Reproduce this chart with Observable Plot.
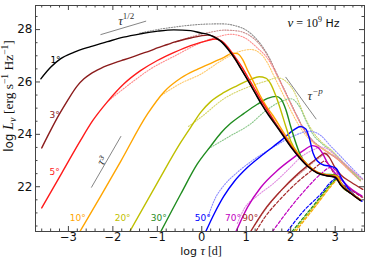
<!DOCTYPE html>
<html><head><meta charset="utf-8">
<script src="https://cdn.jsdelivr.net/npm/d3@7"></script>
<script src="https://cdn.jsdelivr.net/npm/@observablehq/plot@0.6"></script>
<style>body{margin:0;background:#fff}#chart svg{display:block}</style>
</head><body><div id="chart"></div>
<script>
// ---- axis ticks ----
const xMajor = [-3, -2, -1, 0, 1, 2, 3];
const xMinor = [-3.6,-3.4,-3.2,-2.8,-2.6,-2.4,-2.2,-1.8,-1.6,-1.4,-1.2,-0.8,-0.6,-0.4,-0.2,0.2,0.4,0.6,0.8,1.2,1.4,1.6,1.8,2.2,2.4,2.6,2.8,3.2,3.4,3.6];
const yMajor = [22, 24, 26, 28];
const yMinor = [20.5,21,21.5,22.5,23,23.5,24.5,25,25.5,26.5,27,27.5,28.5];

// ---- angles & colours ----
const angles = ["1°","3°","5°","10°","20°","30°","50°","70°","90°"];
const colors = ["#000000","#8b1c1c","#ff1a1a","#ffa500","#bfbf00","#1f8c1f","#0000ff","#bf00bf","#a52a2a"];
const dotColors = ["#8c8c8c","#c98a8a","#ff8c8c","#ffc96b","#d6d66b","#8cc88c","#8c8cff","#e08ce0","#d49a9a"];

// ---- solid curves [log tau, log L] ----
const jet1 = [[-3.62,26.12],[-3.40,26.56],[-3.18,26.88],[-2.88,27.13],[-2.50,27.35],[-2.12,27.54],[-1.76,27.71],[-1.37,27.84],[-0.99,27.94],[-0.63,27.99],[-0.25,27.96],[-0.02,27.87],[0.14,27.82],[0.27,27.72],[0.43,27.55],[0.59,27.25],[0.75,26.88],[0.90,26.45],[1.05,26.02],[1.20,25.57],[1.35,25.13],[1.50,24.73],[1.65,24.38],[1.80,24.02],[2.00,23.52],[2.20,23.10],[2.40,22.75],[2.60,22.52],[2.80,22.42],[3.00,22.36],[3.13,22.05],[3.36,21.73],[3.57,21.47]];
const jet3 = [[-3.60,23.48],[-3.40,24.15],[-3.21,24.75],[-3.02,25.29],[-2.80,25.85],[-2.65,26.12],[-2.50,26.31],[-2.27,26.52],[-2.12,26.63],[-1.90,26.77],[-1.75,26.85],[-1.52,26.98],[-1.37,27.07],[-1.15,27.20],[-1.00,27.30],[-0.77,27.43],[-0.62,27.52],[-0.25,27.68],[0.13,27.79],[0.25,27.75],[0.40,27.60],[0.55,27.35],[0.70,27.00],[0.85,26.60],[1.00,26.18],[1.15,25.74],[1.30,25.30],[1.45,24.90],[1.65,24.42],[1.80,24.05],[2.00,23.55],[2.20,23.12],[2.40,22.76],[2.60,22.53],[2.80,22.43],[3.00,22.37],[3.13,22.06],[3.36,21.74],[3.57,21.48]];
const jet5 = [[-3.60,21.19],[-3.14,22.55],[-2.73,23.76],[-2.45,24.53],[-2.12,25.25],[-1.75,25.93],[-1.37,26.44],[-1.00,26.82],[-0.62,27.13],[-0.25,27.39],[0.13,27.58],[0.30,27.64],[0.45,27.56],[0.60,27.30],[0.73,27.00],[0.88,26.63],[1.03,26.20],[1.18,25.76],[1.33,25.32],[1.48,24.92],[1.65,24.45],[1.80,24.07],[2.00,23.57],[2.20,23.14],[2.40,22.77],[2.60,22.54],[2.80,22.44],[3.00,22.38],[3.13,22.07],[3.36,21.75],[3.57,21.49]];
const jet10 = [[-2.74,20.29],[-2.27,21.65],[-1.82,22.98],[-1.22,24.78],[-0.85,25.62],[-0.47,26.15],[-0.08,26.50],[0.25,26.75],[0.50,26.94],[0.69,27.10],[0.80,27.08],[0.92,26.85],[1.03,26.45],[1.15,26.05],[1.30,25.52],[1.45,25.08],[1.60,24.72],[1.80,24.18],[2.00,23.64],[2.20,23.18],[2.40,22.80],[2.60,22.55],[2.80,22.45],[2.95,22.42],[3.05,22.38],[3.15,22.07],[3.36,21.76],[3.57,21.50]];
const jet20 = [[-1.62,20.29],[-1.00,22.15],[-0.47,23.70],[-0.25,24.27],[-0.02,24.85],[0.20,25.25],[0.50,25.60],[0.80,25.86],[1.10,26.10],[1.29,26.20],[1.44,26.15],[1.55,25.93],[1.67,25.45],[1.78,24.90],[1.89,24.30],[2.00,23.75],[2.20,23.20],[2.40,22.81],[2.60,22.56],[2.80,22.46],[2.95,22.44],[3.05,22.40],[3.15,22.08],[3.36,21.76],[3.57,21.50]];
const jet30 = [[-0.92,20.29],[-0.47,21.73],[-0.10,22.87],[0.20,23.55],[0.43,24.05],[0.65,24.42],[0.95,24.80],[1.25,25.15],[1.48,25.37],[1.67,25.45],[1.78,25.35],[1.89,24.95],[2.00,24.30],[2.12,23.65],[2.22,23.20],[2.35,22.88],[2.50,22.65],[2.65,22.52],[2.80,22.47],[2.95,22.46],[3.05,22.41],[3.15,22.09],[3.36,21.77],[3.57,21.50]];
const jet50 = [[0.09,20.29],[0.28,20.97],[0.50,21.65],[0.73,22.20],[1.03,22.74],[1.40,23.26],[1.78,23.76],[2.08,24.18],[2.22,24.30],[2.34,24.20],[2.42,23.85],[2.50,23.30],[2.60,22.98],[2.75,22.82],[2.90,22.78],[3.02,22.70],[3.15,22.30],[3.36,21.80],[3.60,21.45]];
const jet70 = [[0.77,20.29],[1.03,21.22],[1.33,21.98],[1.70,22.62],[2.08,23.13],[2.30,23.40],[2.49,23.57],[2.61,23.50],[2.72,23.26],[2.83,22.90],[2.98,22.55],[3.10,22.35],[3.30,22.00],[3.60,21.65]];
const jet90 = [[1.10,20.29],[1.40,21.09],[1.78,21.85],[2.16,22.49],[2.53,23.00],[2.68,23.20],[2.76,23.28],[2.87,23.12],[2.98,22.78],[3.13,22.45],[3.36,22.17],[3.62,21.90]];

// ---- dashed curves (counter-jet) ----
const cj10 = [[2.11,20.29],[2.57,21.28],[3.00,22.20],[3.07,22.32],[3.13,22.06],[3.36,21.74],[3.57,21.47]];
const cj20 = [[2.07,20.29],[2.55,21.30],[2.99,22.22],[3.06,22.33],[3.13,22.06],[3.36,21.74],[3.57,21.47]];
const cj30 = [[2.03,20.29],[2.53,21.32],[2.98,22.24],[3.05,22.34],[3.13,22.06],[3.36,21.74],[3.57,21.47]];
const cj50 = [[1.92,20.29],[2.30,21.09],[2.68,21.73],[2.90,22.17],[3.02,22.32],[3.12,22.15],[3.36,21.78],[3.60,21.45]];
const cj70 = [[1.59,20.29],[2.00,21.22],[2.38,21.98],[2.68,22.49],[2.90,22.74],[3.02,22.60],[3.13,22.30],[3.36,21.90],[3.60,21.60]];
const cj90 = [[1.22,20.30],[1.40,20.79],[1.78,21.55],[2.16,22.19],[2.53,22.70],[2.68,22.90],[2.76,22.98],[2.87,22.82],[2.98,22.48],[3.13,22.15],[3.36,21.87],[3.62,21.60]];

// ---- dotted curves ----
const alt1 = [[-1.40,27.86],[-1.00,28.00],[-0.60,28.10],[-0.25,28.17],[0.10,28.21],[0.45,28.22],[0.75,28.15],[1.05,27.92],[1.27,27.56],[1.50,26.98],[1.70,26.25],[1.93,25.45],[2.10,24.85],[2.30,24.20],[2.50,23.75],[2.70,23.48],[2.90,23.25],[3.10,23.00],[3.30,22.67],[3.57,22.24]];
const alt3 = [[-0.60,27.52],[-0.20,27.74],[0.20,27.90],[0.50,27.98],[0.80,27.95],[1.05,27.80],[1.27,27.50],[1.50,26.95],[1.72,26.20],[1.93,25.43],[2.10,24.83],[2.30,24.18],[2.50,23.74],[2.70,23.47],[2.90,23.24],[3.10,22.99],[3.30,22.66],[3.57,22.23]];
const alt5 = [[-2.10,25.28],[-1.60,25.95],[-1.15,26.50],[-0.60,27.00],[-0.02,27.50],[0.35,27.72],[0.65,27.82],[0.95,27.70],[1.25,27.30],[1.50,26.85],[1.72,26.15],[1.93,25.42],[2.10,24.82],[2.30,24.17],[2.50,23.73],[2.70,23.46],[2.90,23.23],[3.10,22.98],[3.30,22.65],[3.57,22.22]];
const alt10 = [[-0.90,25.50],[-0.47,25.95],[-0.02,26.30],[0.43,26.80],[0.88,27.18],[1.10,27.24],[1.33,27.07],[1.48,26.72],[1.63,26.20],[1.85,25.45],[2.00,24.92],[2.20,24.30],[2.40,23.85],[2.60,23.56],[2.80,23.38],[3.00,23.15],[3.28,22.72],[3.57,22.24]];
const alt20 = [[-0.30,24.30],[-0.02,24.65],[0.50,25.36],[1.03,25.80],[1.48,26.05],[1.70,26.16],[1.93,25.97],[2.08,25.62],[2.20,25.15],[2.35,24.55],[2.50,24.10],[2.70,23.70],[2.90,23.42],[3.10,23.08],[3.30,22.72],[3.57,22.25]];
const alt30 = [[0.15,23.45],[0.65,23.95],[1.10,24.40],[1.40,24.85],[1.78,25.25],[2.00,25.36],[2.20,25.05],[2.35,24.50],[2.50,24.00],[2.70,23.65],[2.90,23.38],[3.10,23.06],[3.30,22.72],[3.57,22.25]];
const alt50 = [[0.15,20.90],[0.30,21.55],[0.50,22.05],[0.80,22.55],[1.10,22.95],[1.60,23.50],[2.08,23.95],[2.42,24.12],[2.68,23.95],[2.90,23.55],[3.13,23.15],[3.36,22.74],[3.62,22.30]];
const alt70 = [[0.80,20.60],[0.95,21.15],[1.25,21.65],[1.63,22.15],[2.00,22.75],[2.23,23.13],[2.50,23.40],[2.68,23.51],[2.85,23.42],[3.00,23.20],[3.20,22.90],[3.40,22.60],[3.62,22.28]];
const alt90 = [[1.20,20.55],[1.60,21.50],[2.00,22.20],[2.38,22.74],[2.60,23.05],[2.83,23.26],[3.00,23.15],[3.20,22.88],[3.40,22.58],[3.62,22.27]];

// ---- guide lines ----
const guideHalf = [[-2.27,27.81],[-1.26,28.32]];
const guideCube = [[-2.48,21.98],[-1.82,23.92]];
const guideP = [[1.89,26.18],[2.57,24.59]];

// ---- angle label positions ----
const labelX = [-3.29,-3.31,-3.31,-2.79,-1.78,-0.97,0.02,0.70,1.09];
const labelY = [26.82,24.72,22.54,20.79,20.79,20.79,20.79,20.79,20.79];

const solidSets = [jet1,jet3,jet5,jet10,jet20,jet30,jet50,jet70,jet90];
const dottedSets = [alt1,alt3,alt5,alt10,alt20,alt30,alt50,alt70,alt90];
const dashedSets = [null,null,null,cj10,cj20,cj30,cj50,cj70,cj90];

function rows(sets, cols) {
  const out = [];
  sets.forEach((pts, i) => { if (pts) pts.forEach(([x, y]) => out.push({key: angles[i], color: cols[i], x, y})); });
  return out;
}
const solidRows = rows(solidSets, colors).reverse();
const dottedRows = rows(dottedSets, dotColors);
const dashedRows = rows(dashedSets, colors);
const guideRows = [guideHalf, guideCube, guideP].flatMap((g, i) => g.map(([x, y]) => ({g: i, x, y})));
const labelRows = angles.map((a, i) => ({text: a, x: labelX[i], y: labelY[i], color: colors[i]}));

const W = 374, H = 259, mt = 5, mr = 10, mb = 28, ml = 35;
const fw = W - ml - mr, fh = H - mt - mb;
const frameCol = "#444";

const chart = Plot.plot({
  width: W, height: H,
  marginTop: mt, marginRight: mr, marginBottom: mb, marginLeft: ml,
  style: {fontFamily: "DejaVu Sans", fontSize: "12px", background: "#fff", color: "#111"},
  x: {domain: [-3.74, 3.66], label: null},
  y: {domain: [20.29, 28.92], label: null},
  marks: [
    Plot.line(dottedRows, {x: "x", y: "y", z: "key", stroke: "color", strokeWidth: 1.1, strokeDasharray: "1.2,1.5", curve: "monotone-x", clip: true}),
    Plot.line(dashedRows, {x: "x", y: "y", z: "key", stroke: "color", strokeWidth: 1.2, strokeDasharray: "3,2", curve: "monotone-x", clip: true}),
    Plot.line(solidRows, {x: "x", y: "y", z: "key", stroke: "color", strokeWidth: 1.4, curve: "monotone-x", clip: true}),
    Plot.line(guideRows, {x: "x", y: "y", z: "g", stroke: "#666", strokeWidth: 0.8}),
    Plot.text(labelRows, {x: "x", y: "y", text: "text", fill: "color", fontSize: 9, fontFamily: "DejaVu Sans"}),
    Plot.text([{x: -2.25, y: 23.0}], {x: "x", y: "y", text: () => "τ³", rotate: -60, fontSize: 12, fontStyle: "italic", fontFamily: "Liberation Serif", fill: "#333"}),
    // ticks
    Plot.tickX(xMajor, {x: d => d, stroke: frameCol, insetTop: fh - 5}),
    Plot.tickX(xMajor, {x: d => d, stroke: frameCol, insetBottom: fh - 5}),
    Plot.tickX(xMinor, {x: d => d, stroke: frameCol, insetTop: fh - 2.5}),
    Plot.tickX(xMinor, {x: d => d, stroke: frameCol, insetBottom: fh - 2.5}),
    Plot.tickY(yMajor, {y: d => d, stroke: frameCol, insetRight: fw - 5}),
    Plot.tickY(yMajor, {y: d => d, stroke: frameCol, insetLeft: fw - 5}),
    Plot.tickY(yMinor, {y: d => d, stroke: frameCol, insetRight: fw - 2.5}),
    Plot.tickY(yMinor, {y: d => d, stroke: frameCol, insetLeft: fw - 2.5}),
    Plot.axisX(xMajor, {tickSize: 0, tickPadding: 1, fontSize: 11.5, label: null}),
    Plot.axisY(yMajor, {tickSize: 0, tickPadding: 3, fontSize: 12, label: null}),
    Plot.frame({stroke: frameCol, strokeWidth: 1})
  ]
});
document.getElementById("chart").appendChild(chart);

const sx = chart.scale("x"), sy = chart.scale("y");
const svg = d3.select(chart);
const SERIF = "Liberation Serif", SANS = "DejaVu Sans";
function rich(x, y, parts, opts = {}) {
  const t = svg.append("text").attr("x", x).attr("y", y).attr("fill", opts.fill || "#111")
    .attr("text-anchor", opts.anchor || "start");
  if (opts.transform) t.attr("transform", opts.transform).attr("x", 0).attr("y", 0);
  parts.forEach(p => {
    t.append("tspan").text(p.t).attr("font-family", p.f || SERIF).attr("font-size", p.s || 12)
      .attr("font-style", p.i ? "italic" : "normal").attr("dy", p.dy || 0);
  });
  return t;
}
// annotations
rich(sx.apply(-1.87), sy.apply(28.14), [{t: "τ", i: true, s: 13}, {t: "1/2", s: 9, dy: -6}], {fill: "#333"});
rich(sx.apply(2.39), sy.apply(25.30), [{t: "τ", i: true, s: 13}, {t: "−p", s: 9, i: true, dy: -6}], {fill: "#333"});
rich(sx.apply(1.94), sy.apply(28.08), [{t: "ν", i: true, s: 13}, {t: " = 10", s: 12}, {t: "9", s: 8, dy: -5}, {t: " Hz", f: SANS, s: 11, dy: 5}], {fill: "#111"});
// axis titles
rich(0, 0, [{t: "log ", f: SANS, s: 11}, {t: "τ", i: true, s: 12.5}, {t: " [d]", s: 12}], {anchor: "middle", transform: "translate(201,255)"});
rich(0, 0, [{t: "log ", f: SANS, s: 12}, {t: "L", i: true, s: 14}, {t: "ν", i: true, s: 10, dy: 3}, {t: " [erg s", s: 13.5, dy: -3}, {t: "−1", s: 9.5, dy: -5}, {t: " Hz", s: 13.5, dy: 5}, {t: "−1", s: 9.5, dy: -5}, {t: "]", s: 13.5, dy: 5}], {anchor: "middle", transform: "translate(13,96) rotate(-90)"});
</script>
</body></html>
